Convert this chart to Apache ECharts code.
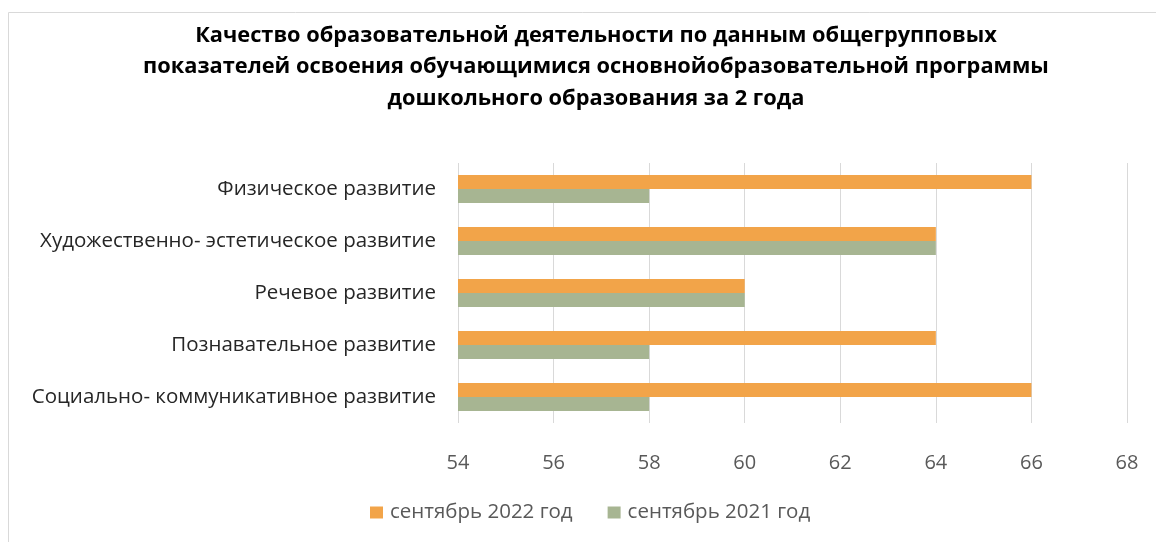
<!DOCTYPE html>
<html>
<head>
<meta charset="utf-8">
<script src="https://cdn.jsdelivr.net/npm/echarts@6/dist/echarts.min.js"></script>
<style>
  html, body { margin: 0; padding: 0; background: #fff; }
  #chart { width: 1156px; height: 542px; }
</style>
</head>
<body>
<div id="chart"></div>
<script>
// категории снизу вверх (ось Y категорий)
var categories = [
  "Социально- коммуникативное развитие",
  "Познавательное развитие",
  "Речевое развитие",
  "Художественно- эстетическое развитие",
  "Физическое развитие"
];
var seriesNames = ["сентябрь 2022 год", "сентябрь 2021 год"];
var values2022 = [66, 64, 60, 64, 66];
var values2021 = [58, 58, 60, 64, 58];
var xTicks = [54, 56, 58, 60, 62, 64, 66, 68];

var colors = ["#F2A449", "#A7B592"];
var font = "'Open Sans', 'Noto Sans', sans-serif";

var chart = echarts.init(document.getElementById("chart"));
var option = {
  animation: false,
  color: colors,
  title: {
    text: "Качество образовательной деятельности по данным общегрупповых\nпоказателей освоения обучающимися основнойобразовательной программы\nдошкольного образования за 2 года",
    left: 591,
    textAlign: "center",
    top: 15,
    textStyle: {
      fontFamily: font,
      fontSize: 21.8,
      fontWeight: "bold",
      color: "#000",
      lineHeight: 31.5
    }
  },
  graphic: [{
    type: "rect",
    shape: { x: 8.5, y: 12.5, width: 1160, height: 540 },
    style: { fill: "none", stroke: "#d9d9d9", lineWidth: 1 },
    silent: true
  }],
  legend: {
    bottom: 14,
    left: 365,
    itemWidth: 13,
    itemHeight: 12,
    itemGap: 35,
    icon: "rect",
    textStyle: { fontFamily: font, fontSize: 20.5, color: "#595959", padding: [0, 0, 0, 2] },
    data: seriesNames
  },
  grid: {
    left: 458,
    right: 29,
    top: 163,
    bottom: 119
  },
  xAxis: {
    type: "value",
    min: xTicks[0],
    max: xTicks[xTicks.length - 1],
    interval: 2,
    axisLine: { show: false },
    axisTick: { show: false },
    axisLabel: { fontFamily: font, fontSize: 20, color: "#595959", margin: 30 },
    splitLine: { lineStyle: { color: "#d9d9d9", width: 1 } }
  },
  yAxis: {
    type: "category",
    data: categories,
    axisLine: { show: false },
    axisTick: { show: false },
    axisLabel: { fontFamily: font, fontSize: 20.5, color: "#262626", margin: 22 }
  },
  series: [
    {
      name: seriesNames[0],
      type: "bar",
      data: values2022,
      barWidth: 14,
      barGap: "0%",
      barCategoryGap: "46%"
    },
    {
      name: seriesNames[1],
      type: "bar",
      data: values2021,
      barWidth: 14,
      barGap: "0%",
      barCategoryGap: "46%"
    }
  ]
};
chart.setOption(option);
</script>
</body>
</html>
